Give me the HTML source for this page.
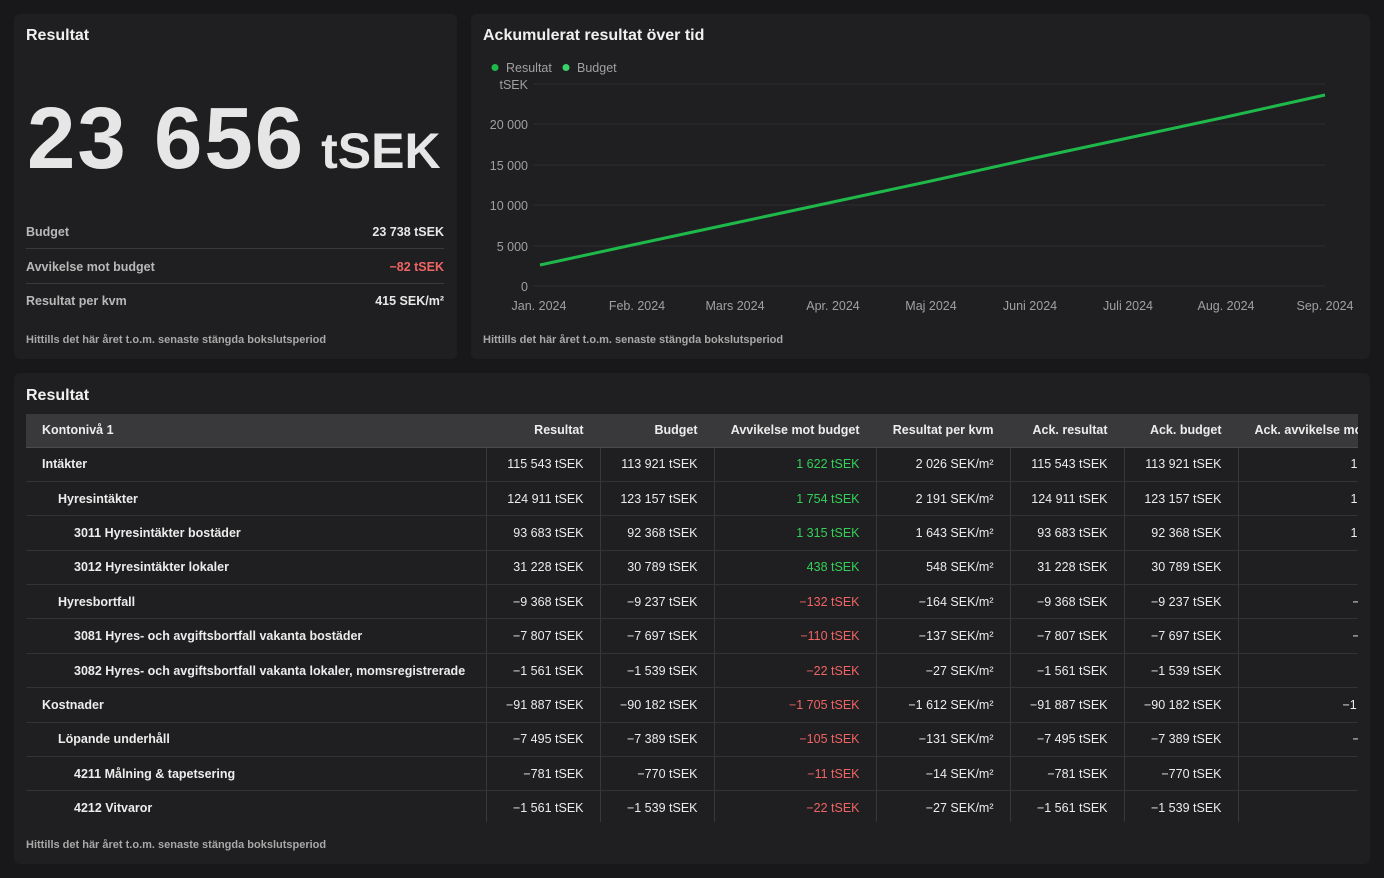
<!DOCTYPE html>
<html><head><meta charset="utf-8"><style>
*{box-sizing:border-box;margin:0;padding:0}
body{width:1384px;height:878px;background:#18181a;font-family:"Liberation Sans",sans-serif;color:#e8e8e8;position:relative;overflow:hidden}
.card{position:absolute;background:#1f1f21;border-radius:6px}
.h{position:absolute;font-weight:bold;font-size:16px;color:#f0f0f0}
.foot{position:absolute;font-size:11px;color:#a8a8a8;font-weight:bold}
.kv{position:absolute;left:26px;width:418px;font-size:12.5px;font-weight:bold;display:flex;justify-content:space-between;height:34px;align-items:center}
.kv span:first-child{color:#b8b8b8}
.tw{position:absolute;left:26px;top:414px;width:1332px;height:408px;overflow:hidden}
table{border-collapse:collapse;table-layout:fixed;width:1372px;font-size:12.5px}
td,th{height:34.4px;padding:0 16px;text-align:right;white-space:nowrap;border-bottom:1px solid #333335;border-left:1px solid #38383a;color:#ececec}
th{background:#39393b;height:33px;font-weight:bold;border-bottom:1px solid #4a4a4c}
td:first-child,th:first-child{text-align:left;border-left:none;font-weight:bold}
.g{color:#34d058}.r{color:#f06464}
.l2{padding-left:32px!important}.l3{padding-left:48px!important}
</style></head><body>
<div class="card" style="left:14px;top:14px;width:443px;height:345px"></div>
<div class="card" style="left:471px;top:14px;width:899px;height:345px"></div>
<div class="card" style="left:14px;top:373px;width:1356px;height:491px"></div>

<div class="h" style="left:26px;top:27px">Resultat</div>
<div style="position:absolute;left:27px;top:89px;font-weight:bold;font-size:87px;letter-spacing:2px;color:#e6e6e6;line-height:100px;white-space:nowrap">23 656<span style="font-size:50px;letter-spacing:0;margin-left:16px">tSEK</span></div>
<div class="kv" style="top:215px;border-bottom:1px solid #3a3a3c"><span>Budget</span><span>23 738 tSEK</span></div>
<div class="kv" style="top:250px;border-bottom:1px solid #3a3a3c"><span>Avvikelse mot budget</span><span class="r">−82 tSEK</span></div>
<div class="kv" style="top:284px"><span>Resultat per kvm</span><span>415 SEK/m²</span></div>
<div class="foot" style="left:26px;top:334px">Hittills det här året t.o.m. senaste stängda bokslutsperiod</div>

<div class="h" style="left:483px;top:27px">Ackumulerat resultat över tid</div>
<svg style="position:absolute;left:471px;top:14px" width="899" height="310" font-family="Liberation Sans, sans-serif" font-size="12.5" fill="#a0a0a0">
<circle cx="24" cy="53.5" r="3.5" fill="#1fb84a"/><text x="35" y="58">Resultat</text>
<circle cx="95" cy="53.5" r="3.5" fill="#3ad06a"/><text x="106" y="58">Budget</text>
<g stroke="#2e2e30" stroke-width="1">
<line x1="62" x2="854" y1="70" y2="70"/><line x1="62" x2="854" y1="110" y2="110"/><line x1="62" x2="854" y1="151" y2="151"/><line x1="62" x2="854" y1="191" y2="191"/><line x1="62" x2="854" y1="232" y2="232"/><line x1="62" x2="854" y1="272" y2="272"/></g>
<g text-anchor="end"><text x="57" y="75">tSEK</text><text x="57" y="115">20 000</text><text x="57" y="156">15 000</text><text x="57" y="196">10 000</text><text x="57" y="237">5 000</text><text x="57" y="277">0</text></g>
<g text-anchor="middle"><text x="68" y="296">Jan. 2024</text><text x="166" y="296">Feb. 2024</text><text x="264" y="296">Mars 2024</text><text x="362" y="296">Apr. 2024</text><text x="460" y="296">Maj 2024</text><text x="559" y="296">Juni 2024</text><text x="657" y="296">Juli 2024</text><text x="755" y="296">Aug. 2024</text><text x="854" y="296">Sep. 2024</text></g>
<polyline points="69,251 166,230 264,209 362,188 460,167 559,145 657,124 755,103 854,81" fill="none" stroke="#1fb84a" stroke-width="3"/>
</svg>
<div class="foot" style="left:483px;top:334px">Hittills det här året t.o.m. senaste stängda bokslutsperiod</div>

<div class="h" style="left:26px;top:387px">Resultat</div>
<div class="tw"><table>
<colgroup><col style="width:460px"><col style="width:114px"><col style="width:114px"><col style="width:162px"><col style="width:134px"><col style="width:114px"><col style="width:114px"><col style="width:160px"></colgroup>
<tr><th>Kontonivå 1</th><th>Resultat</th><th>Budget</th><th>Avvikelse mot budget</th><th>Resultat per kvm</th><th>Ack. resultat</th><th>Ack. budget</th><th style="text-align:left">Ack. avvikelse mot budget</th></tr>
<tr><td>Intäkter</td><td>115 543 tSEK</td><td>113 921 tSEK</td><td class="g">1 622 tSEK</td><td>2 026 SEK/m²</td><td>115 543 tSEK</td><td>113 921 tSEK</td><td style="text-align:left;padding-left:112px">1 622 tSEK</td></tr>
<tr><td class="l2">Hyresintäkter</td><td>124 911 tSEK</td><td>123 157 tSEK</td><td class="g">1 754 tSEK</td><td>2 191 SEK/m²</td><td>124 911 tSEK</td><td>123 157 tSEK</td><td style="text-align:left;padding-left:112px">1 754 tSEK</td></tr>
<tr><td class="l3">3011 Hyresintäkter bostäder</td><td>93 683 tSEK</td><td>92 368 tSEK</td><td class="g">1 315 tSEK</td><td>1 643 SEK/m²</td><td>93 683 tSEK</td><td>92 368 tSEK</td><td style="text-align:left;padding-left:112px">1 315 tSEK</td></tr>
<tr><td class="l3">3012 Hyresintäkter lokaler</td><td>31 228 tSEK</td><td>30 789 tSEK</td><td class="g">438 tSEK</td><td>548 SEK/m²</td><td>31 228 tSEK</td><td>30 789 tSEK</td><td style="text-align:left;padding-left:130px">438 tSEK</td></tr>
<tr><td class="l2">Hyresbortfall</td><td>−9 368 tSEK</td><td>−9 237 tSEK</td><td class="r">−132 tSEK</td><td>−164 SEK/m²</td><td>−9 368 tSEK</td><td>−9 237 tSEK</td><td style="text-align:left;padding-left:114px">−132 tSEK</td></tr>
<tr><td class="l3">3081 Hyres- och avgiftsbortfall vakanta bostäder</td><td>−7 807 tSEK</td><td>−7 697 tSEK</td><td class="r">−110 tSEK</td><td>−137 SEK/m²</td><td>−7 807 tSEK</td><td>−7 697 tSEK</td><td style="text-align:left;padding-left:114px">−110 tSEK</td></tr>
<tr><td class="l3">3082 Hyres- och avgiftsbortfall vakanta lokaler, momsregistrerade</td><td>−1 561 tSEK</td><td>−1 539 tSEK</td><td class="r">−22 tSEK</td><td>−27 SEK/m²</td><td>−1 561 tSEK</td><td>−1 539 tSEK</td><td style="text-align:left;padding-left:128px">−22 tSEK</td></tr>
<tr><td>Kostnader</td><td>−91 887 tSEK</td><td>−90 182 tSEK</td><td class="r">−1 705 tSEK</td><td>−1 612 SEK/m²</td><td>−91 887 tSEK</td><td>−90 182 tSEK</td><td style="text-align:left;padding-left:104px">−1 705 tSEK</td></tr>
<tr><td class="l2">Löpande underhåll</td><td>−7 495 tSEK</td><td>−7 389 tSEK</td><td class="r">−105 tSEK</td><td>−131 SEK/m²</td><td>−7 495 tSEK</td><td>−7 389 tSEK</td><td style="text-align:left;padding-left:114px">−105 tSEK</td></tr>
<tr><td class="l3">4211 Målning &amp; tapetsering</td><td>−781 tSEK</td><td>−770 tSEK</td><td class="r">−11 tSEK</td><td>−14 SEK/m²</td><td>−781 tSEK</td><td>−770 tSEK</td><td style="text-align:left;padding-left:128px">−11 tSEK</td></tr>
<tr><td class="l3">4212 Vitvaror</td><td>−1 561 tSEK</td><td>−1 539 tSEK</td><td class="r">−22 tSEK</td><td>−27 SEK/m²</td><td>−1 561 tSEK</td><td>−1 539 tSEK</td><td style="text-align:left;padding-left:128px">−22 tSEK</td></tr>
</table></div>
<div class="foot" style="left:26px;top:839px">Hittills det här året t.o.m. senaste stängda bokslutsperiod</div>
</body></html>
